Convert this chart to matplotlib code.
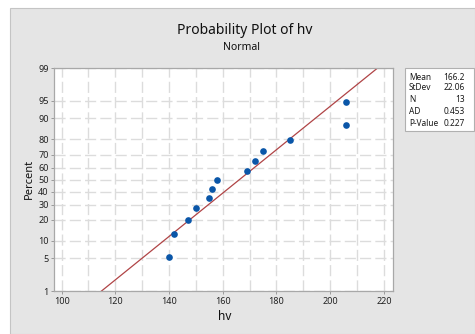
import numpy as np
import matplotlib
matplotlib.use("Agg")
import matplotlib.pyplot as plt
from matplotlib.patches import Rectangle
from statistics import NormalDist

# ---- data ----
hv = [140, 142, 147, 150, 155, 156, 158, 169, 172, 175, 185, 206, 206]
percent = [5.2, 12.7, 20.1, 27.6, 35.1, 42.5, 50.0, 57.5, 64.9, 72.4, 79.9, 87.3, 94.8]
fit_mean = 166.2
fit_sd = 22.06
stat_labels = ["Mean", "StDev", "N", "AD", "P-Value"]
stat_values = ["166.2", "22.06", "13", "0.453", "0.227"]
y_ticks = [1, 5, 10, 20, 30, 40, 50, 60, 70, 80, 90, 95, 99]
x_ticks = [100, 120, 140, 160, 180, 200, 220]
x_grid = [100, 110, 120, 130, 140, 150, 160, 170, 180, 190, 200, 210, 220]

plt.rcParams['font.family'] = ['Noto Sans', 'DejaVu Sans']

nd = NormalDist()
_ppf = np.vectorize(lambda p: nd.inv_cdf(min(max(p / 100.0, 1e-9), 1 - 1e-9)), otypes=[float])
_cdf = np.vectorize(lambda z: nd.cdf(z) * 100.0, otypes=[float])

def fwd(p):
    return _ppf(np.asarray(p, dtype=float))

def inv(z):
    return _cdf(np.asarray(z, dtype=float))

W, H = 475, 334
fig = plt.figure(figsize=(W / 100, H / 100), dpi=100)
fig.patch.set_facecolor('white')

def fx(px):
    return px / W

def fy(py):
    return 1 - py / H

# gray panel
fig.patches.append(Rectangle((fx(10), 0), 1 - fx(10), fy(8), transform=fig.transFigure,
                             facecolor='#e5e5e5', edgecolor='#c4c4c4', linewidth=0.8, zorder=-10))

ax = fig.add_axes([fx(54.3), fy(291), fx(393.3) - fx(54.3), fy(68.3) - fy(291)])
ax.set_zorder(1)
ax.set_facecolor('white')
ax.set_yscale('function', functions=(fwd, inv))
ax.set_ylim(1, 99)
ax.set_xlim(97.3, 223.5)

# grid
for gx in x_grid:
    ax.axvline(gx, color='#dcdcdc', lw=1.0, dashes=(8, 3), zorder=1)
for gy in y_ticks:
    ax.axhline(gy, color='#dcdcdc', lw=1.0, dashes=(8, 3), zorder=1)

# fitted line
p_lo, p_hi = 1, 99
x_lo = fit_mean + fit_sd * nd.inv_cdf(p_lo / 100)
x_hi = fit_mean + fit_sd * nd.inv_cdf(p_hi / 100)
ax.plot([x_lo, x_hi], [p_lo, p_hi], color='#b04446', lw=0.9, zorder=2)

# points
ax.plot(hv, percent, 'o', color='#0a56a8', markersize=4.8, markeredgewidth=0, zorder=3)

ax.set_yticks(y_ticks)
ax.set_yticklabels([str(t) for t in y_ticks])
ax.set_xticks(x_ticks)
ax.minorticks_off()
ax.tick_params(axis='both', length=2.5, width=0.7, color='#9a9a9a', labelsize=6.5,
               labelcolor='#222222', pad=1.5)
for s in ax.spines.values():
    s.set_color('#a8a8a8')
    s.set_linewidth(0.9)

# titles / labels
fig.text(fx(245), fy(30), "Probability Plot of hv", ha='center', va='center',
         fontsize=10, color='#111111')
fig.text(fx(242), fy(47.5), "Normal", ha='center', va='center',
         fontsize=7.5, color='#111111')
fig.text(fx(29), fy(179), "Percent", ha='center', va='center', rotation=90,
         fontsize=8, color='#111111')
fig.text(fx(225), fy(317), "hv", ha='center', va='center', fontsize=8.5, color='#111111')

# stats box
fig.patches.append(Rectangle((fx(405), fy(131)), fx(474) - fx(405), fy(68) - fy(131),
                             transform=fig.transFigure, facecolor='white',
                             edgecolor='#b0b0b0', linewidth=0.8, zorder=1))
rows_y = [77, 87.7, 99.7, 111.7, 123.7]
for lab, val, ry in zip(stat_labels, stat_values, rows_y):
    fig.text(fx(409), fy(ry), lab, ha='left', va='center', fontsize=6, color='#1a1a1a', zorder=2)
    fig.text(fx(465), fy(ry), val, ha='right', va='center', fontsize=6, color='#1a1a1a', zorder=2)

fig.savefig("out.png", dpi=100)
